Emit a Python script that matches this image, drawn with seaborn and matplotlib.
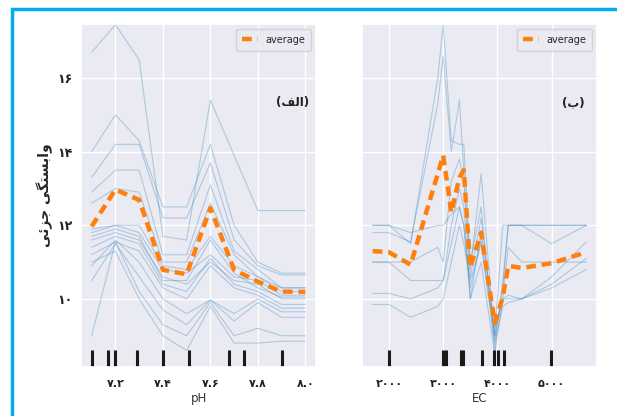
import numpy as np
import pandas as pd
import matplotlib
matplotlib.use("Agg")
import matplotlib.pyplot as plt
import seaborn as sns
from matplotlib.patches import Rectangle

# grid values of the two features
ph_grid = [7.1, 7.2, 7.3, 7.4, 7.5, 7.6, 7.7, 7.8, 7.9, 8.0]
ec_grid = [1700, 2000, 2400, 2900, 3000, 3150, 3300, 3380, 3500, 3700, 3950, 4100, 4200, 4450, 5000, 5640]

# ICE curves
ph_ice = [
    [16.7, 17.45, 16.5, 11.7, 11.6, 15.4, 13.9, 12.4, 12.4, 12.4],
    [14.0, 15.0, 14.3, 12.5, 12.5, 14.2, 12.0, 11.0, 10.7, 10.7],
    [13.3, 14.2, 14.2, 12.2, 12.2, 13.7, 11.6, 10.9, 10.65, 10.65],
    [12.9, 13.5, 13.5, 11.2, 11.2, 13.1, 11.3, 10.8, 10.3, 10.3],
    [12.6, 13.0, 12.9, 11.0, 11.0, 12.6, 11.2, 10.6, 10.3, 10.3],
    [11.9, 12.0, 12.0, 10.9, 10.8, 11.7, 10.9, 10.6, 10.2, 10.2],
    [11.8, 12.0, 11.8, 10.8, 10.7, 11.2, 10.6, 10.5, 10.1, 10.1],
    [11.6, 11.8, 11.6, 10.6, 10.4, 11.0, 10.5, 10.4, 10.0, 10.0],
    [11.4, 11.7, 11.5, 10.4, 10.2, 11.1, 10.4, 10.2, 9.85, 9.85],
    [11.2, 11.55, 11.3, 10.3, 10.0, 10.9, 10.3, 10.1, 9.75, 9.75],
    [10.9, 11.6, 11.0, 10.0, 9.6, 9.97, 9.6, 10.0, 9.65, 9.65],
    [10.5, 11.5, 10.6, 9.7, 9.3, 9.97, 9.4, 9.9, 9.5, 9.5],
    [9.0, 11.55, 10.2, 9.3, 9.0, 9.9, 9.0, 9.2, 9.0, 9.0],
    [11.0, 11.3, 10.0, 9.0, 8.6, 9.8, 8.8, 8.8, 8.85, 8.85],
    [11.7, 11.9, 11.7, 10.5, 10.5, 11.6, 10.7, 10.3, 10.05, 10.05],
]
ph_avg = [11.97, 12.97, 12.69, 10.79, 10.67, 12.47, 10.79, 10.47, 10.2, 10.19]

ec_ice = [
    [12.0, 12.0, 11.5, 16.0, 17.45, 14.3, 14.2, 14.2, 11.0, 12.5, 8.6, 10.5, 12.0, 12.0, 12.0, 12.0],
    [11.8, 11.8, 11.55, 15.3, 16.6, 14.0, 15.4, 13.5, 10.8, 13.4, 8.9, 10.3, 12.0, 12.0, 11.5, 12.0],
    [11.0, 11.0, 11.0, 11.4, 11.0, 13.2, 13.8, 13.2, 10.6, 12.2, 9.0, 10.0, 11.4, 11.0, 11.0, 11.0],
    [11.0, 11.0, 10.5, 10.5, 10.5, 12.0, 13.0, 12.5, 10.0, 11.8, 9.2, 10.0, 10.1, 10.0, 10.6, 11.55],
    [10.15, 10.15, 10.0, 10.3, 10.5, 11.5, 12.5, 12.0, 10.0, 11.0, 8.5, 10.0, 10.0, 10.0, 10.4, 11.1],
    [9.85, 9.85, 9.5, 9.8, 10.0, 11.0, 12.0, 11.5, 10.5, 11.5, 8.8, 9.8, 9.9, 10.0, 10.3, 10.8],
    [12.0, 12.0, 11.8, 12.0, 12.0, 12.3, 12.5, 12.0, 10.3, 11.6, 9.0, 12.0, 12.0, 12.0, 12.0, 12.0],
]
ec_avg = [11.3, 11.27, 10.93, 13.4, 13.9, 12.35, 13.3, 13.5, 10.85, 11.8, 9.35, 10.05, 10.9, 10.84, 10.97, 11.27]

# deciles (rug marks)
ph_deciles = [7.1, 7.17, 7.2, 7.29, 7.4, 7.51, 7.68, 7.74, 7.9]
ec_deciles = [2000, 2990, 3050, 3320, 3370, 3710, 3930, 4020, 4120, 4980]

fa = str.maketrans("0123456789", "۰۱۲۳۴۵۶۷۸۹")
ph_ticks = [7.2, 7.4, 7.6, 7.8, 8.0]
ec_ticks = [2000, 3000, 4000, 5000]
y_ticks = [10, 12, 14, 16]

# shaped persian strings, visual order
ylabel_fa = "\uFBFD\uFE8B\uFEB0\uFE9F \uFBFD\uFB95\uFE98\uFEB4\uFE91\uFE8D\uFEED"
panel_a = "(\uFED2\uFEDF\uFE8D)"
panel_b = "(\uFE8F)"

sns.set_theme(style="darkgrid")
plt.rcParams['font.family'] = ['DejaVu Sans']

fig = plt.figure(figsize=(6.17, 4.16), dpi=100)
ax1 = fig.add_axes([81/617, 49/416, 235/617, 343/416])
ax2 = fig.add_axes([362/617, 49/416, 235/617, 343/416])


def long_df(grid, ice):
    rows = []
    for i, curve in enumerate(ice):
        for g, v in zip(grid, curve):
            rows.append((i, g, v))
    return pd.DataFrame(rows, columns=["line", "x", "y"])


panels = [
    (ax1, ph_grid, ph_ice, ph_avg, ph_deciles, ph_ticks, "pH", (7.055, 8.045), panel_a),
    (ax2, ec_grid, ec_ice, ec_avg, ec_deciles, ec_ticks, "EC", (1503, 5837), panel_b),
]
for ax, grid, ice, avg, dec, ticks, name, xl, tag in panels:
    d = long_df(grid, ice)
    sns.lineplot(data=d, x="x", y="y", units="line", estimator=None,
                 color="tab:blue", alpha=0.3, lw=0.8, ax=ax)
    sns.lineplot(x=grid, y=avg, color="tab:orange", lw=3.2, ls="--",
                 dashes=False, label="average", ax=ax)
    ax.lines[-1].set_linestyle((0, (2.2, 1.3)))
    sns.rugplot(x=dec, height=0.05, color="k", linewidth=2.2, ax=ax)
    ax.set_xlim(*xl)
    ax.set_ylim(8.15, 17.47)
    ax.set_xticks(ticks)
    ax.set_yticks(y_ticks)
    if name == "pH":
        ax.set_xticklabels([f"{t:.1f}".translate(fa) for t in ticks], fontweight="bold", fontsize=8)
        ax.set_yticklabels([str(t).translate(fa) for t in y_ticks], fontweight="bold", fontsize=9)
        ax.set_ylabel(ylabel_fa, fontweight="bold", fontsize=10, labelpad=3)
    else:
        ax.set_yticklabels([])
        ax.set_ylabel("")
        ax.set_xticklabels([str(t).translate(fa) for t in ticks], fontweight="bold", fontsize=8)
    ax.set_xlabel(name, fontsize=8.5, color="#333333", labelpad=2)
    ax.tick_params(axis="x", pad=2.5, colors="#222222")
    ax.tick_params(axis="y", pad=0.5, colors="#222222")
    leg = ax.legend(loc="upper right", fontsize=7, handlelength=1.6, borderpad=0.6)
    leg.get_frame().set_facecolor("#EAEAF2")
    ax.text(0.9, 0.77, tag, transform=ax.transAxes, ha="center", va="center",
            fontsize=8.5, fontweight="bold", color="#222222")

fig.add_artist(Rectangle((12/617, -0.2), 1.2, 1.2 - 9/416, transform=fig.transFigure,
                         fill=False, edgecolor="#00AEEF", lw=2.5))

fig.savefig("out.png", dpi=100)
